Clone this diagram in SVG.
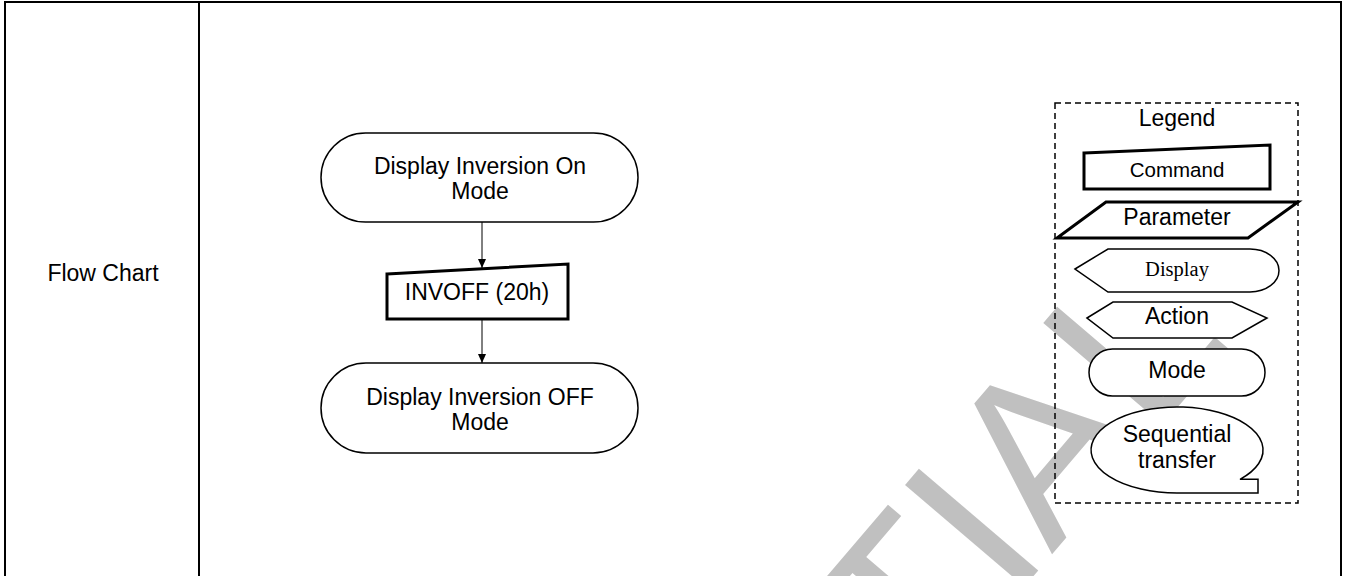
<svg xmlns="http://www.w3.org/2000/svg" width="1346" height="576" viewBox="0 0 1346 576">
<style>
.t{font-family:"Liberation Sans",Arial,sans-serif;font-size:23px;fill:#000;text-anchor:middle}
.s{font-family:"Liberation Serif","Times New Roman",serif;font-size:20.5px;fill:#000;text-anchor:middle}
.thin{fill:#fff;stroke:#000;stroke-width:1.5}
.thick{fill:#fff;stroke:#000;stroke-width:3;stroke-linejoin:miter}
.grid{stroke:#000;stroke-width:2;fill:none}
.conn{stroke:#000;stroke-width:1;fill:none}
.wm{font-family:"Liberation Sans",Arial,sans-serif;font-size:228px;fill:#c0c0c0}
</style>
<defs>
<marker id="arr" markerWidth="10" markerHeight="10" refX="9" refY="5" orient="auto" markerUnits="userSpaceOnUse">
<path d="M0,1 L9,5 L0,9 Z" fill="#000"/>
</marker>
</defs>
<rect x="0" y="0" width="1346" height="576" fill="#fff"/>
<g id="watermark">
<text class="wm" transform="translate(147,1614) rotate(-49.5)">CONFIDENTIAL</text>
</g>
<g id="table">
<path class="grid" d="M5,580 V2 H1341 V580 M199,2 V580"/>
<text class="t" x="103" y="281">Flow Chart</text>
</g>
<g id="connectors">
<line class="conn" x1="482" y1="222" x2="482" y2="268" marker-end="url(#arr)"/>
<line class="conn" x1="482" y1="319" x2="482" y2="363" marker-end="url(#arr)"/>
</g>
<g id="node-on">
<rect class="thin" x="321" y="133" width="317" height="89" rx="44.5" ry="44.5"/>
<text class="t" x="480" y="174">Display Inversion On</text>
<text class="t" x="480" y="199">Mode</text>
</g>
<g id="node-invoff">
<path class="thick" d="M387,274 L568,264 L568,319 L387,319 Z"/>
<text class="t" x="477" y="300">INVOFF (20h)</text>
</g>
<g id="node-off">
<rect class="thin" x="321" y="363" width="317" height="90" rx="45" ry="45"/>
<text class="t" x="480" y="405">Display Inversion OFF</text>
<text class="t" x="480" y="430">Mode</text>
</g>
<g id="legend">
<rect x="1055" y="103" width="243" height="400" fill="none" stroke="#000" stroke-width="1.5" stroke-dasharray="6,4"/>
<text class="t" x="1177" y="126">Legend</text>
<g id="legend-command">
<path class="thick" d="M1084,153 L1270,145 L1270,189 L1084,189 Z"/>
<text class="t" x="1177" y="177" style="font-size:20.5px">Command</text>
</g>
<g id="legend-parameter">
<path class="thick" d="M1106,202 L1298,202 L1248,238 L1057,238 Z"/>
<text class="t" x="1177" y="225">Parameter</text>
</g>
<g id="legend-display">
<path class="thin" d="M1075,269 L1108,249 L1250,249 A29,21.5 0 0 1 1250,292 L1108,292 Z"/>
<text class="s" x="1177" y="276">Display</text>
</g>
<g id="legend-action">
<path class="thin" d="M1087,318 L1113,302 L1232,302 L1267,318 L1232,338 L1113,338 Z"/>
<text class="t" x="1177" y="324">Action</text>
</g>
<g id="legend-mode">
<rect class="thin" x="1089" y="349" width="176" height="47" rx="23.5" ry="23.5"/>
<text class="t" x="1177" y="378">Mode</text>
</g>
<g id="legend-sequential">
<path class="thin" d="M1177,493 A86,43 0 1 1 1240,479.3 L1258,479.3 L1258,493 Z"/>
<text class="t" x="1177" y="442">Sequential</text>
<text class="t" x="1177" y="468">transfer</text>
</g>
</g>
</svg>
